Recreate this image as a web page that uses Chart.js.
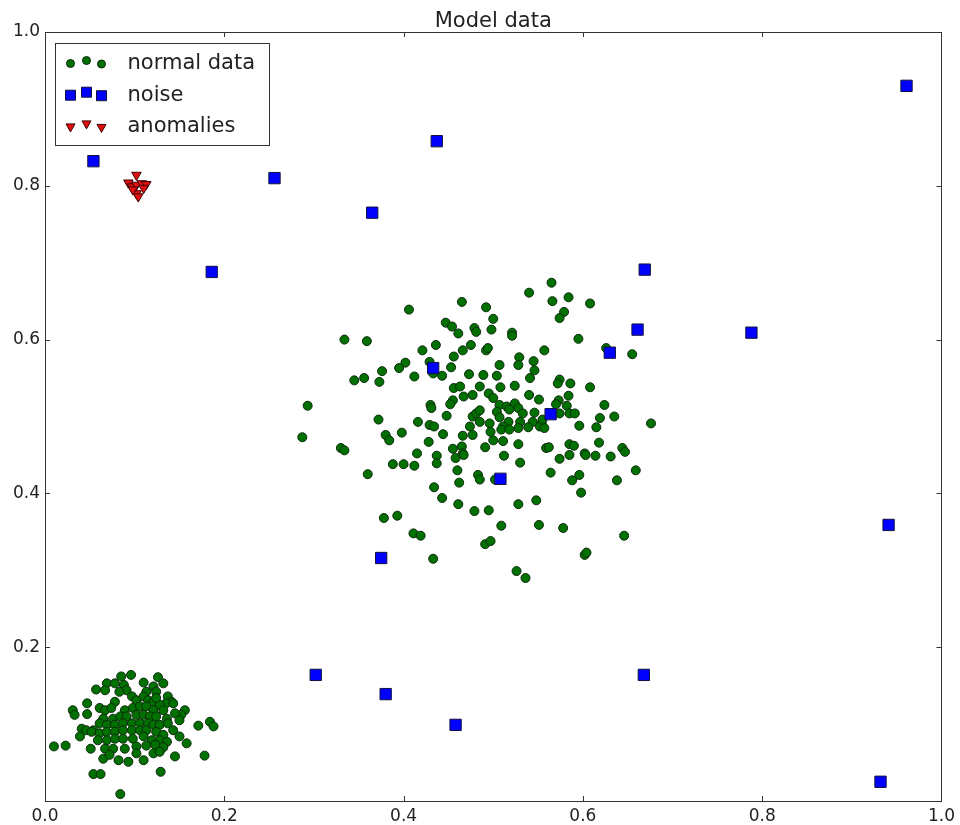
<!DOCTYPE html>
<html>
<head>
<meta charset="utf-8">
<title>Model data</title>
<script src="https://cdn.jsdelivr.net/npm/chart.js@4/dist/chart.umd.min.js"></script>
<style>
    html, body { margin: 0; padding: 0; background: #fff; }
    #chart { width: 960px; height: 825px; }
</style>
</head>
<body>
<div id="chart"><canvas id="plot" width="960" height="825"></canvas></div>
<script>
// large blob of normal points around (0.5, 0.5)
const blobLarge = [
    [0.465,0.649],[0.406,0.639],[0.447,0.622],[0.454,0.617],[0.461,0.608],[0.479,0.615],[0.481,0.610],
    [0.334,0.600],[0.359,0.598],[0.436,0.593],[0.421,0.586],[0.466,0.586],[0.475,0.593],[0.456,0.578],
    [0.402,0.570],[0.395,0.563],[0.429,0.571],[0.453,0.564],[0.376,0.559],[0.345,0.547],[0.356,0.550],
    [0.373,0.545],[0.412,0.552],[0.443,0.553],[0.433,0.556],[0.473,0.555],[0.456,0.537],[0.463,0.539],
    [0.467,0.526],[0.477,0.528],[0.455,0.521],[0.452,0.516],[0.293,0.514],[0.430,0.515],[0.431,0.511],
    [0.448,0.501],[0.372,0.496],[0.416,0.493],[0.429,0.489],[0.434,0.487],[0.477,0.500],[0.481,0.504],
    [0.474,0.487],[0.485,0.539],
    [0.565,0.674],[0.540,0.661],[0.566,0.650],[0.584,0.655],[0.608,0.647],[0.492,0.642],[0.579,0.636],
    [0.574,0.628],[0.500,0.627],[0.498,0.613],[0.521,0.609],[0.521,0.605],[0.492,0.586],[0.494,0.589],
    [0.595,0.601],[0.626,0.589],[0.655,0.581],[0.557,0.586],[0.529,0.577],[0.528,0.567],[0.545,0.572],
    [0.507,0.567],[0.489,0.554],[0.504,0.553],[0.546,0.560],[0.541,0.550],[0.574,0.548],[0.572,0.543],
    [0.586,0.543],[0.608,0.538],[0.508,0.538],[0.524,0.540],[0.495,0.530],[0.500,0.524],[0.540,0.528],
    [0.551,0.522],[0.584,0.527],[0.573,0.521],[0.570,0.516],[0.582,0.514],[0.624,0.515],[0.507,0.515],
    [0.515,0.513],[0.524,0.517],[0.528,0.511],[0.485,0.508],[0.504,0.506],[0.533,0.504],[0.546,0.505],
    [0.574,0.504],[0.585,0.504],[0.591,0.504],[0.619,0.498],[0.635,0.500],[0.676,0.491],[0.517,0.493],
    [0.530,0.493],[0.544,0.493],[0.554,0.491],[0.496,0.491],[0.596,0.488],[0.615,0.486],[0.485,0.493],
    [0.511,0.487],
    [0.287,0.473],[0.380,0.476],[0.384,0.469],[0.398,0.479],[0.444,0.477],[0.466,0.475],[0.477,0.476],
    [0.428,0.467],[0.330,0.459],[0.334,0.456],[0.415,0.452],[0.437,0.449],[0.437,0.439],[0.455,0.458],
    [0.465,0.461],[0.466,0.452],[0.467,0.450],[0.458,0.446],[0.388,0.438],[0.400,0.438],[0.412,0.436],
    [0.460,0.430],[0.483,0.424],[0.360,0.425],[0.462,0.414],[0.434,0.408],[0.443,0.394],[0.461,0.386],
    [0.479,0.377],[0.378,0.368],[0.393,0.371],[0.411,0.348],[0.419,0.345],[0.433,0.315],
    [0.497,0.480],[0.509,0.483],[0.518,0.483],[0.528,0.485],[0.539,0.486],[0.552,0.487],[0.557,0.485],
    [0.500,0.469],[0.511,0.468],[0.528,0.464],[0.491,0.460],[0.559,0.459],[0.562,0.460],[0.585,0.464],
    [0.590,0.462],[0.618,0.466],[0.644,0.459],[0.647,0.454],[0.574,0.445],[0.585,0.450],[0.602,0.452],
    [0.603,0.450],[0.614,0.449],[0.631,0.448],[0.512,0.449],[0.530,0.440],[0.659,0.430],[0.638,0.417],
    [0.564,0.427],[0.596,0.424],[0.588,0.417],[0.598,0.401],[0.485,0.418],[0.502,0.418],[0.495,0.378],
    [0.528,0.386],[0.548,0.391],[0.509,0.358],[0.551,0.359],[0.578,0.355],[0.646,0.345],[0.491,0.334],
    [0.497,0.338],[0.602,0.320],[0.604,0.323],[0.526,0.299],[0.536,0.290],
    [0.518,0.509],[0.507,0.499],[0.555,0.496]
];

// small tight blob of normal points around (0.1, 0.1)
const blobSmall = [
    [0.085,0.162],[0.096,0.164],[0.126,0.161],[0.132,0.153],[0.069,0.153],[0.078,0.153],[0.110,0.154],
    [0.057,0.145],[0.067,0.144],[0.088,0.151],[0.091,0.144],[0.083,0.142],[0.121,0.149],[0.124,0.142],
    [0.113,0.142],[0.137,0.136],[0.141,0.129],[0.135,0.127],[0.143,0.127],[0.047,0.127],[0.078,0.129],
    [0.097,0.136],[0.102,0.131],[0.110,0.136],[0.115,0.131],[0.121,0.129],[0.128,0.125],[0.124,0.134],
    [0.031,0.118],[0.033,0.112],[0.047,0.113],[0.061,0.121],[0.067,0.118],[0.074,0.121],[0.089,0.118],
    [0.098,0.121],[0.106,0.123],[0.113,0.123],[0.121,0.118],[0.132,0.118],[0.156,0.118],[0.152,0.112],
    [0.145,0.114],[0.065,0.107],[0.076,0.107],[0.084,0.110],[0.091,0.110],[0.102,0.112],[0.110,0.112],
    [0.117,0.110],[0.124,0.110],[0.136,0.107],[0.150,0.105],[0.171,0.098],[0.184,0.103],[0.188,0.097],
    [0.041,0.094],[0.046,0.092],[0.054,0.092],[0.061,0.101],[0.069,0.099],[0.078,0.099],[0.087,0.101],
    [0.097,0.101],[0.106,0.101],[0.115,0.101],[0.121,0.099],[0.128,0.099],[0.137,0.101],[0.143,0.092],
    [0.039,0.084],[0.052,0.090],[0.061,0.088],[0.069,0.090],[0.078,0.090],[0.087,0.092],[0.097,0.092],
    [0.106,0.092],[0.113,0.092],[0.124,0.090],[0.132,0.086],[0.150,0.084],[0.158,0.075],
    [0.010,0.071],[0.023,0.072],[0.051,0.068],[0.059,0.079],[0.069,0.079],[0.078,0.081],[0.087,0.081],
    [0.098,0.081],[0.110,0.084],[0.119,0.079],[0.128,0.079],[0.136,0.077],
    [0.067,0.068],[0.076,0.068],[0.089,0.068],[0.102,0.071],[0.113,0.072],[0.123,0.073],[0.132,0.070],
    [0.065,0.055],[0.072,0.060],[0.082,0.053],[0.093,0.051],[0.102,0.062],[0.110,0.053],[0.121,0.062],
    [0.128,0.064],[0.145,0.058],[0.178,0.059],
    [0.054,0.035],[0.062,0.035],[0.129,0.038],
    [0.084,0.009]
];

// uniform noise points
const noise = [
    [0.054,0.832],[0.256,0.810],[0.437,0.858],[0.961,0.930],[0.365,0.765],[0.186,0.688],[0.669,0.691],
    [0.661,0.613],[0.630,0.583],[0.788,0.609],[0.433,0.563],[0.564,0.503],[0.508,0.419],[0.375,0.316],
    [0.941,0.359],[0.302,0.164],[0.380,0.139],[0.458,0.099],[0.668,0.164],[0.932,0.025]
];

// tight anomaly group near (0.1, 0.8)
const anomalies = [
    [0.102,0.814],[0.093,0.804],[0.097,0.799],[0.102,0.801],[0.108,0.803],
    [0.113,0.802],[0.102,0.790],[0.104,0.786],[0.098,0.795],[0.110,0.797]
];

const tickValues = [0, 0.2, 0.4, 0.6, 0.8, 1.0];

const titleText = 'Model data';
const seriesNames = ['normal data', 'noise', 'anomalies'];
const green = { fill: '#007000', edge: '#0d2a0d' };
const blue = { fill: '#0000ff', edge: '#101040' };
const red = { fill: '#e01010', edge: '#400000' };

const toXY = arr => arr.map(p => ({ x: p[0], y: p[1] }));

// matplotlib-style inward ticks on every side plus the frame
const frameTicks = {
    id: 'frameTicks',
    afterDatasetsDraw(chart) {
        const { ctx, chartArea: a, scales } = chart;
        ctx.save();
        ctx.strokeStyle = '#333';
        ctx.lineWidth = 1;
        ctx.beginPath();
        tickValues.forEach(v => {
            const px = Math.round(scales.x.getPixelForValue(v)) + 0.5;
            const py = Math.round(scales.y.getPixelForValue(v)) + 0.5;
            ctx.moveTo(px, a.bottom); ctx.lineTo(px, a.bottom - 5);
            ctx.moveTo(px, a.top); ctx.lineTo(px, a.top + 5);
            ctx.moveTo(a.left, py); ctx.lineTo(a.left + 5, py);
            ctx.moveTo(a.right, py); ctx.lineTo(a.right - 5, py);
        });
        ctx.stroke();
        ctx.strokeRect(Math.round(a.left) + 0.5, Math.round(a.top) + 0.5,
            Math.round(a.right - a.left), Math.round(a.bottom - a.top));
        ctx.restore();
    }
};

// title centred over the axes box rather than the whole canvas
const axesTitle = {
    id: 'axesTitle',
    afterDraw(chart) {
        const { ctx, chartArea: a } = chart;
        ctx.save();
        ctx.font = '21px "DejaVu Sans", sans-serif';
        ctx.fillStyle = '#222';
        ctx.textAlign = 'center';
        ctx.textBaseline = 'alphabetic';
        ctx.fillText(titleText, (a.left + a.right) / 2, a.top - 5);
        ctx.restore();
    }
};

function marker(ctx, kind, x, y) {
    ctx.beginPath();
    if (kind === 0) {
        ctx.arc(x, y, 4, 0, Math.PI * 2);
        ctx.fillStyle = green.fill; ctx.strokeStyle = green.edge;
    } else if (kind === 1) {
        ctx.rect(x - 5, y - 5, 10, 10);
        ctx.fillStyle = blue.fill; ctx.strokeStyle = blue.edge;
    } else {
        ctx.moveTo(x - 4.5, y - 3); ctx.lineTo(x + 4.5, y - 3); ctx.lineTo(x, y + 5); ctx.closePath();
        ctx.fillStyle = red.fill; ctx.strokeStyle = red.edge;
    }
    ctx.fill();
    ctx.stroke();
}

// boxed legend in the upper left corner, three sample markers per entry
const cornerLegend = {
    id: 'cornerLegend',
    afterDraw(chart) {
        const { ctx, chartArea: a } = chart;
        const left = a.left + 10.5, top = a.top + 11.5;
        ctx.save();
        ctx.fillStyle = '#fff';
        ctx.fillRect(left, top, 214, 102);
        ctx.strokeStyle = '#333';
        ctx.lineWidth = 1;
        ctx.strokeRect(left, top, 214, 102);
        ctx.font = '21px "DejaVu Sans", sans-serif';
        ctx.textBaseline = 'alphabetic';
        const offs = [1.5, -1.5, 2];
        seriesNames.forEach((name, i) => {
            const cy = top + 18.5 + i * 31.7;
            [0, 16, 31].forEach((dx, j) => marker(ctx, i, left + 15 + dx, cy + offs[j]));
            ctx.fillStyle = '#222';
            ctx.fillText(name, left + 72, cy + 7);
        });
        ctx.restore();
    }
};

const pointBase = { showLine: false, borderWidth: 1, pointHoverRadius: 5 };

new Chart(document.getElementById('plot'), {
    type: 'scatter',
    data: {
        datasets: [
            {
                ...pointBase,
                label: seriesNames[0],
                data: toXY(blobLarge.concat(blobSmall)),
                pointStyle: 'circle',
                pointRadius: 4.5,
                backgroundColor: green.fill,
                borderColor: green.edge,
                order: 3
            },
            {
                ...pointBase,
                label: seriesNames[1],
                data: toXY(noise),
                pointStyle: 'rect',
                pointRadius: 8,
                backgroundColor: blue.fill,
                borderColor: blue.edge,
                order: 2
            },
            {
                ...pointBase,
                label: seriesNames[2],
                data: toXY(anomalies),
                pointStyle: 'triangle',
                pointRotation: 180,
                pointRadius: 5.5,
                backgroundColor: red.fill,
                borderColor: red.edge,
                order: 1
            }
        ]
    },
    options: {
        responsive: false,
        animation: false,
        layout: { padding: { left: 0, right: 18, top: 32, bottom: 0 } },
        scales: {
            x: {
                type: 'linear',
                min: 0,
                max: 1,
                afterFit: s => { s.height = 24; },
                afterBuildTicks: s => { s.ticks = tickValues.map(v => ({ value: v })); },
                grid: { display: false, drawTicks: false },
                border: { display: false },
                ticks: {
                    padding: 5,
                    color: '#222',
                    font: { family: 'DejaVu Sans', size: 17 },
                    callback: v => v.toFixed(1)
                }
            },
            y: {
                type: 'linear',
                min: 0,
                max: 1,
                afterFit: s => { s.width = 45; },
                afterBuildTicks: s => { s.ticks = tickValues.map(v => ({ value: v })); },
                grid: { display: false, drawTicks: false },
                border: { display: false },
                ticks: {
                    padding: 5,
                    color: '#222',
                    font: { family: 'DejaVu Sans', size: 17 },
                    callback: v => v === 0 ? '' : v.toFixed(1)
                }
            }
        },
        plugins: {
            legend: { display: false },
            tooltip: { enabled: false },
            title: { display: false }
        }
    },
    plugins: [frameTicks, axesTitle, cornerLegend]
});
</script>
</body>
</html>
